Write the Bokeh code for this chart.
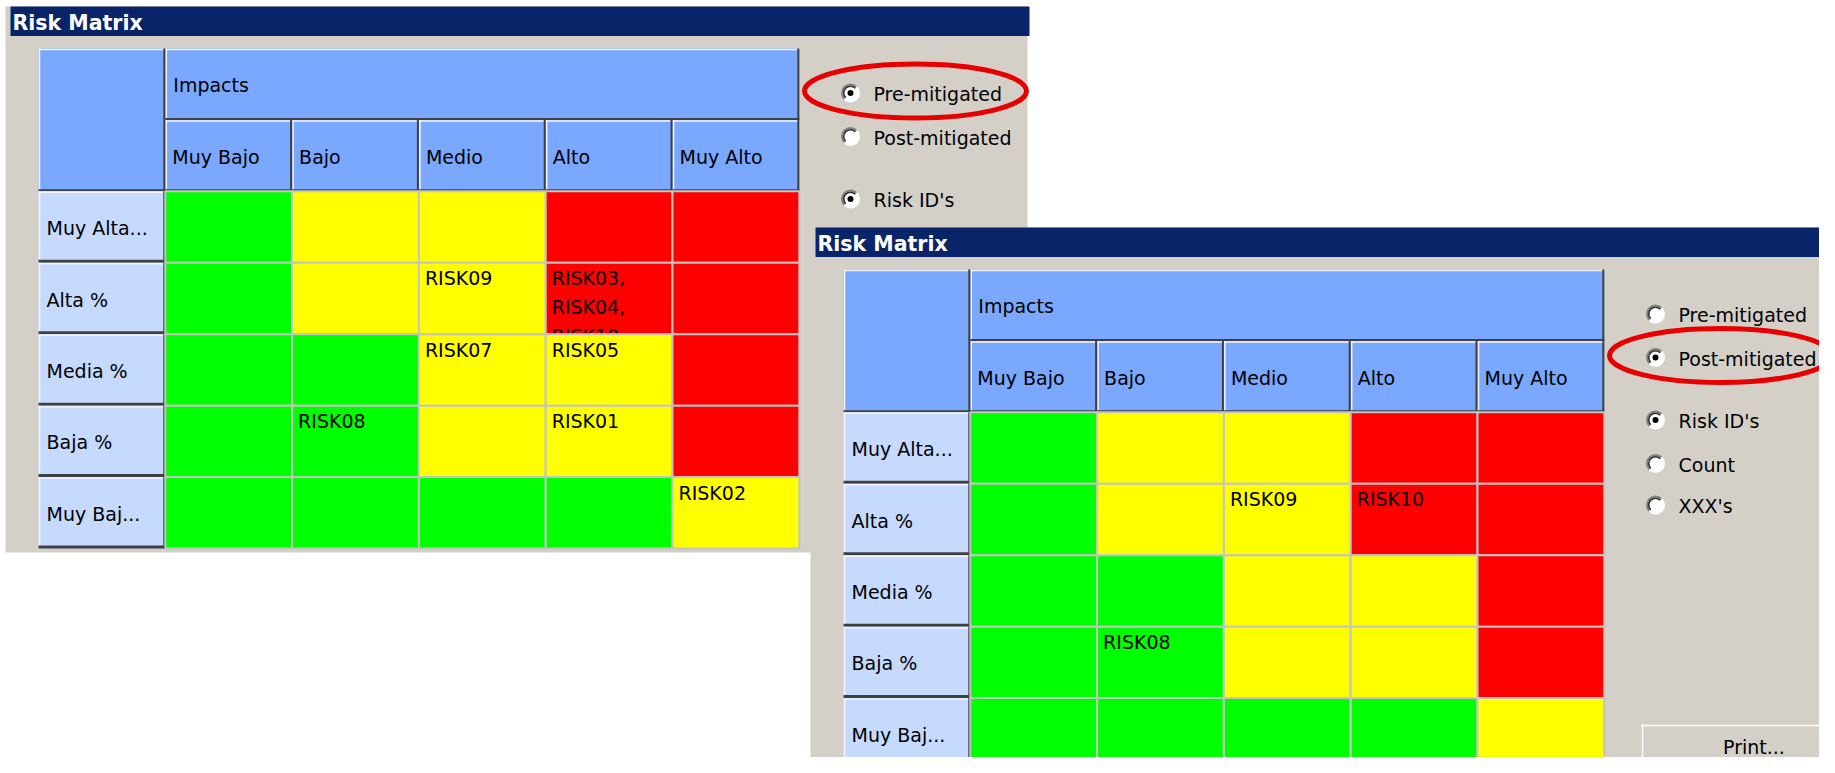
import math
from bokeh.plotting import figure
from bokeh.models import Range1d, ColumnDataSource
from bokeh.embed import file_html
from bokeh.resources import INLINE
from bokeh.core.properties import value

# ---------------- data ----------------
window_title = "Risk Matrix"
header_label = "Impacts"
impacts = ["Muy Bajo", "Bajo", "Medio", "Alto", "Muy Alto"]
likelihoods = ["Muy Alta...", "Alta %", "Media %", "Baja %", "Muy Baj..."]
levels = [
    ["low", "med", "med", "high", "high"],
    ["low", "med", "med", "high", "high"],
    ["low", "low", "med", "med", "high"],
    ["low", "low", "med", "med", "high"],
    ["low", "low", "low", "low", "med"],
]
level_colors = {"low": "#00FF00", "med": "#FFFF00", "high": "#FF0000"}

pre_rows = [1, 1, 2, 2, 3, 3, 4]
pre_cols = [2, 3, 2, 3, 1, 3, 4]
pre_ids = ["RISK09", "RISK03,\nRISK04,\nRISK10", "RISK07", "RISK05", "RISK08", "RISK01", "RISK02"]

post_rows = [1, 1, 3]
post_cols = [2, 3, 1]
post_ids = ["RISK09", "RISK10", "RISK08"]

mode_options = ["Pre-mitigated", "Post-mitigated"]
display_options = ["Risk ID's", "Count", "XXX's"]
button_label = "Print..."

# ---------------- style / layout ----------------
FONT = value("DejaVu Sans")
GRAY = "#D4D0C8"
TITLE_BG = "#0A246A"
HEAD_BG = "#7BA8FF"
ROWHEAD_BG = "#C6DAFF"
DARK = "#404040"
LIGHT = "#F4F4FF"
CW = 126.8
CH = 71.43

W, H = 1819, 757
p = figure(width=W, height=H, x_range=Range1d(0, W), y_range=Range1d(H, 0),
           output_backend="svg", toolbar_location=None, min_border=0,
           x_axis_type=None, y_axis_type=None)
p.grid.visible = False
p.outline_line_color = None
p.background_fill_color = "white"
p.border_fill_color = "white"


def bevel(rects, dark_w=2, dark=DARK, light=LIGHT, bottom_w=None):
    l = [r[0] for r in rects]
    rr = [r[1] for r in rects]
    t = [r[2] for r in rects]
    b = [r[3] for r in rects]
    bw = bottom_w or dark_w
    # light top / left
    p.segment(x0=l, y0=[v + 1 for v in t], x1=rr, y1=[v + 1 for v in t], line_color=light, line_width=1.5)
    p.segment(x0=[v + 1 for v in l], y0=t, x1=[v + 1 for v in l], y1=b, line_color=light, line_width=1.5)
    # dark right / bottom
    p.segment(x0=[v - dark_w / 2 for v in rr], y0=t, x1=[v - dark_w / 2 for v in rr], y1=b,
              line_color=dark, line_width=dark_w)
    p.segment(x0=l, y0=[v - bw / 2 for v in b], x1=rr, y1=[v - bw / 2 for v in b],
              line_color=dark, line_width=bw)


def label(xs, ys, texts, size="19px", color="black", align="left", baseline="middle", style="normal",
          line_height=1.3):
    p.text(x=xs, y=ys, text=texts, text_font=FONT, text_font_size=size, text_color=color,
           text_align=align, text_baseline=baseline, text_font_style=style, text_line_height=line_height)


def radio(cx, cy, selected):
    p.scatter(x=[cx], y=[cy], size=17, marker="circle", fill_color="white", line_color=None)
    p.arc(x=[cx], y=[cy], radius=8.5, start_angle=math.radians(45), end_angle=math.radians(225),
          direction="anticlock", line_color="#808080", line_width=2)
    p.arc(x=[cx], y=[cy], radius=6.8, start_angle=math.radians(45), end_angle=math.radians(225),
          direction="anticlock", line_color="#303030", line_width=1.6)
    p.arc(x=[cx], y=[cy], radius=8.5, start_angle=math.radians(225), end_angle=math.radians(405),
          direction="anticlock", line_color="#FFFFFF", line_width=2)
    if selected:
        p.scatter(x=[cx], y=[cy], size=6, marker="circle", fill_color="black", line_color=None)


def draw_window(ox, oy, id_rows, id_cols, id_texts, mode_sel):
    # window body and title bar
    p.quad(left=[ox + 5], right=[ox + 1027], top=[oy], bottom=[oy + 546], fill_color=GRAY, line_color=None)
    p.quad(left=[ox + 10], right=[ox + 1029], top=[oy], bottom=[oy + 29.5], fill_color=TITLE_BG, line_color=None)
    label([ox + 12], [oy + 16.5], [window_title], size="20.5px", color="white", style="bold")

    gx, gy = ox + 38, oy + 42
    # header cells
    heads = [(gx, gx + CW, gy, gy + 2 * CH), (gx + CW, gx + 6 * CW, gy, gy + CH)]
    heads += [(gx + (i + 1) * CW, gx + (i + 2) * CW, gy + CH, gy + 2 * CH) for i in range(len(impacts))]
    p.quad(left=[h[0] for h in heads], right=[h[1] for h in heads], top=[h[2] for h in heads],
           bottom=[h[3] for h in heads], fill_color=HEAD_BG, line_color=None)
    bevel(heads)
    label([gx + CW + 8], [gy + CH / 2 + 1], [header_label])
    label([gx + (i + 1) * CW + 7 for i in range(len(impacts))], [gy + 1.5 * CH + 1.5] * len(impacts), impacts)

    # body rows (each row drawn after the previous one, so overflowing text is clipped)
    for j, lik in enumerate(likelihoods):
        top = gy + (j + 2) * CH
        bot = top + CH
        rh = [(gx, gx + CW, top, bot)]
        p.quad(left=[gx], right=[gx + CW], top=[top], bottom=[bot], fill_color=ROWHEAD_BG, line_color=None)
        bevel(rh, dark_w=2, bottom_w=3)
        label([gx + 8], [top + CH / 2 + 1], [lik])

        src = ColumnDataSource(dict(
            left=[gx + (i + 1) * CW for i in range(len(impacts))],
            right=[gx + (i + 2) * CW for i in range(len(impacts))],
            top=[top] * len(impacts), bottom=[bot] * len(impacts),
            color=[level_colors[lv] for lv in levels[j]],
        ))
        p.quad(left="left", right="right", top="top", bottom="bottom", source=src,
               fill_color="color", line_color="#C4C4C4", line_width=2)
        xs = [gx + (c + 1) * CW + 6 for r, c in zip(id_rows, id_cols) if r == j]
        ts = [t for r, t in zip(id_rows, id_texts) if r == j]
        if ts:
            label(xs, [top + 4.5] * len(ts), ts, baseline="top", line_height=1.32)

    # option radios
    rx = ox + 850
    opt_y = [oy + 86.5, oy + 130]
    for k, opt in enumerate(mode_options):
        radio(rx, opt_y[k], k == mode_sel)
    label([rx + 23] * len(mode_options), [y + 1 for y in opt_y], mode_options, size="19px")
    disp_y = [oy + 192.5, oy + 236, oy + 277.5]
    for k, opt in enumerate(display_options):
        radio(rx, disp_y[k], k == 0)
    label([rx + 23] * len(display_options), [y + 1 for y in disp_y], display_options, size="19px")

    # red highlight ellipse around the selected mode
    p.ellipse(x=[rx + 65], y=[opt_y[mode_sel] - 2], width=222, height=54,
              fill_color=None, line_color="#E80000", line_width=5)

    # print button
    btn = (ox + 836, ox + 1027, oy + 497, oy + 542)
    p.quad(left=[btn[0]], right=[btn[1]], top=[btn[2]], bottom=[btn[3]], fill_color=GRAY, line_color=None)
    bevel([btn], dark_w=2, dark="#505050", light="white")
    label([(btn[0] + btn[1]) / 2 + 17], [(btn[2] + btn[3]) / 2], [button_label], size="19px", align="center")


draw_window(0, 6, pre_rows, pre_cols, pre_ids, 0)
draw_window(805, 227, post_rows, post_cols, post_ids, 1)

open("out.html", "w").write(file_html(p, INLINE))
